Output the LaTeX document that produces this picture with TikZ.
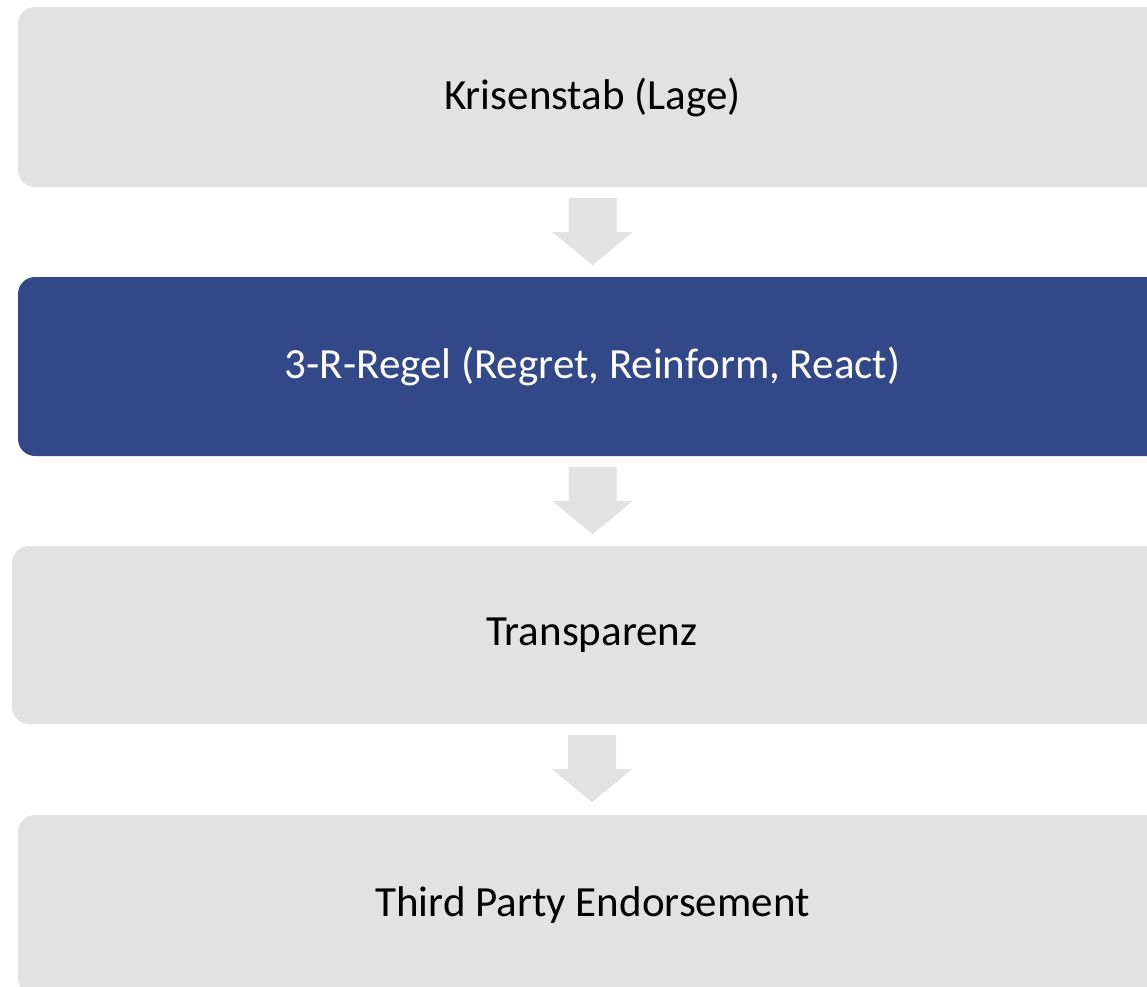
\documentclass[tikz,border=0pt]{standalone}
\usepackage{fontspec}
\setmainfont{Carlito}
\usetikzlibrary{calc}
\definecolor{boxgrey}{HTML}{E2E2E2}
\definecolor{boxblue}{HTML}{334889}
\tikzset{
  stage/.style={fill=boxgrey, rounded corners=17pt, text=black, inner sep=0pt,
    font=\fontsize{43}{50}\selectfont},
  stageblue/.style={stage, fill=boxblue, text=white},
  blockarrow/.style={fill=boxgrey}
}
\begin{document}
\begin{tikzpicture}[x=1pt,y=-1pt]
\useasboundingbox (0,0) rectangle (1147,986);
\clip (0,0) rectangle (1147,986);
\node[stage, minimum width=1149pt, minimum height=180pt] (b1) at (592.5,97) {\raisebox{-2pt}{Krisenstab (Lage)}};
\node[stageblue, minimum width=1149pt, minimum height=179pt] (b2) at (592.5,366.5) {\raisebox{-2pt}{3-R-Regel (Regret, Reinform, React)}};
\node[stage, minimum width=1160pt, minimum height=178pt] (b3) at (592,635) {\raisebox{-2pt}{Transparenz}};
\node[stage, minimum width=1149pt, minimum height=180pt] (b4) at (592.5,905) {\raisebox{-2pt}{Third Party Endorsement}};
\foreach \a/\b in {b1/b2, b2/b3, b3/b4}{
  \fill[blockarrow] ($(\a.south)+(-24,11)$) -- ($(\a.south)+(24,11)$) -- ($(\a.south)+(24,45)$)
    -- ($(\a.south)+(40,45)$) -- ($(\a.south)+(0,78)$) -- ($(\a.south)+(-40,45)$)
    -- ($(\a.south)+(-24,45)$) -- cycle;
}
\end{tikzpicture}
\end{document}
